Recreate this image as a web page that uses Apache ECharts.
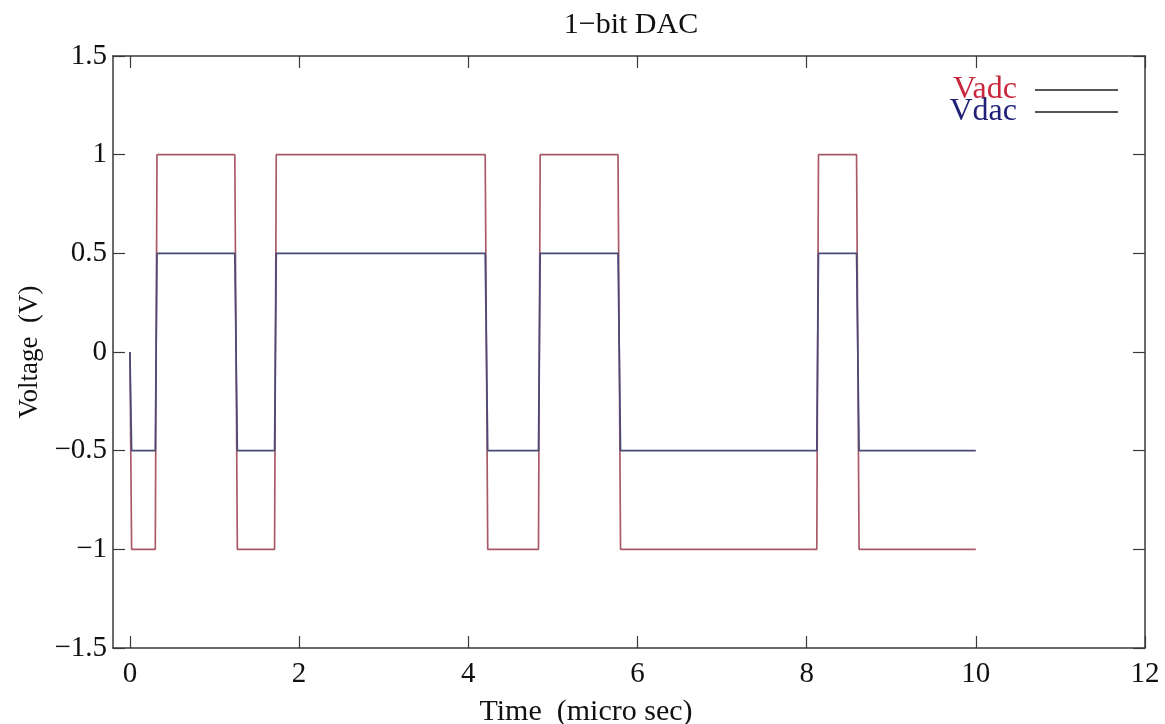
<!DOCTYPE html>
<html>
<head>
<meta charset="utf-8">
<script src="https://cdn.jsdelivr.net/npm/echarts@6/dist/echarts.min.js"></script>
<style>
html,body{margin:0;padding:0;background:#fff;overflow:hidden;}
#chart{width:1165px;height:724px;}
</style>
</head>
<body>
<div id="chart"></div>
<script>
// Data
const titleText = '1\u2212bit DAC';
const xName = 'Time  (micro sec)';
const yName = 'Voltage  (V)';
const seriesNames = ['Vadc', 'Vdac'];
const xTicks = [0, 2, 4, 6, 8, 10, 12];
const yTicks = [-1.5, -1, -0.5, 0, 0.5, 1, 1.5];
const time = [0, 0.02, 0.3, 0.32, 1.24, 1.27, 1.71, 1.73, 4.2, 4.23, 4.83, 4.85, 5.77, 5.8, 8.12, 8.14, 8.59, 8.62, 10];
const vadc = [0, -1, -1, 1, 1, -1, -1, 1, 1, -1, -1, 1, 1, -1, -1, 1, 1, -1, -1];
const vdac = [0, -0.5, -0.5, 0.5, 0.5, -0.5, -0.5, 0.5, 0.5, -0.5, -0.5, 0.5, 0.5, -0.5, -0.5, 0.5, 0.5, -0.5, -0.5];

const FONT = '"Liberation Serif", "Times New Roman", serif';
const AX = '#3a3a3a';
const fmt = v => (v < 0 ? '\u2212' + String(-v) : String(v));

const chart = echarts.init(document.getElementById('chart'), null, {renderer: 'canvas'});
const pairs = (xs, ys) => xs.map((x, i) => [x, ys[i]]);

const tickStyle = {show: true, inside: true, length: 12, lineStyle: {color: AX, width: 1.2}};
chart.setOption({
  animation: false,
  backgroundColor: '#ffffff',
  title: {
    text: titleText, left: 626, top: 5, textAlign: 'center',
    textStyle: {fontFamily: FONT, fontSize: 30, fontWeight: 'normal', color: '#111'}
  },
  legend: {
    orient: 'vertical', right: 42, top: 69, align: 'right',
    itemWidth: 83, itemHeight: 2, itemGap: -10, icon: 'rect',
    textStyle: {fontFamily: FONT, fontSize: 32, padding: [0, 13, 0, 0]},
    data: [
      {name: seriesNames[0], itemStyle: {color: '#555'}, textStyle: {color: '#c8283c'}},
      {name: seriesNames[1], itemStyle: {color: '#555'}, textStyle: {color: '#202078'}}
    ]
  },
  grid: {left: 113, right: 20, top: 56, bottom: 76, containLabel: false, outerBoundsMode: 'none'},
  xAxis: [{
    type: 'value', min: -0.2, max: 12, position: 'bottom',
    name: xName, nameLocation: 'middle', nameGap: 49,
    nameTextStyle: {fontFamily: FONT, fontSize: 30, color: '#111', padding: [0, 86, 0, 0]},
    axisLine: {show: true, onZero: false, lineStyle: {color: AX, width: 1.5}},
    axisTick: Object.assign({customValues: xTicks}, tickStyle),
    axisLabel: {customValues: xTicks, fontFamily: FONT, fontSize: 29, color: '#111', margin: 12, formatter: fmt},
    splitLine: {show: false}
  }, {
    type: 'value', min: -0.2, max: 12, position: 'top',
    axisLine: {show: true, onZero: false, lineStyle: {color: AX, width: 1.5}},
    axisTick: Object.assign({customValues: xTicks}, tickStyle),
    axisLabel: {show: false},
    splitLine: {show: false}
  }],
  yAxis: [{
    type: 'value', min: -1.5, max: 1.5, interval: 0.5, position: 'left',
    name: yName, nameLocation: 'middle', nameGap: 70,
    nameTextStyle: {fontFamily: FONT, fontSize: 27, color: '#111'},
    axisLine: {show: true, onZero: false, lineStyle: {color: AX, width: 1.5}},
    axisTick: tickStyle,
    axisLabel: {fontFamily: FONT, fontSize: 29, color: '#111', margin: 6, formatter: fmt},
    splitLine: {show: false}
  }, {
    type: 'value', min: -1.5, max: 1.5, interval: 0.5, position: 'right',
    axisLine: {show: true, onZero: false, lineStyle: {color: AX, width: 1.5}},
    axisTick: tickStyle,
    axisLabel: {show: false},
    splitLine: {show: false}
  }],
  series: [{
    name: seriesNames[0], type: 'line', xAxisIndex: 0, yAxisIndex: 0,
    data: pairs(time, vadc), showSymbol: false, symbol: 'none',
    lineStyle: {color: '#a85a68', width: 1.7}, itemStyle: {color: '#a85a68'}
  }, {
    name: seriesNames[1], type: 'line', xAxisIndex: 0, yAxisIndex: 0,
    data: pairs(time, vdac), showSymbol: false, symbol: 'none',
    lineStyle: {color: '#4a4a78', width: 1.7}, itemStyle: {color: '#4a4a78'}
  }]
});
</script>
</body>
</html>
